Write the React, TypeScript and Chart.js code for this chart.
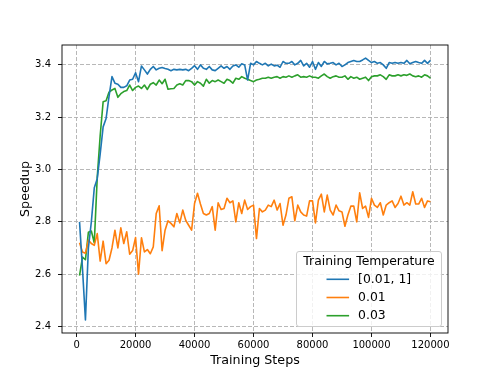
import React, { useEffect, useRef } from "react";
import { Chart, registerables } from "chart.js";

Chart.register(...registerables);

// ---------------- data ----------------
const steps = [
  1000, 2000, 3000, 4000, 5000, 6000, 7000, 8000, 9000, 10000,
  11000, 12000, 13000, 14000, 15000, 16000, 17000, 18000, 19000, 20000,
  21000, 22000, 23000, 24000, 25000, 26000, 27000, 28000, 29000, 30000,
  31000, 32000, 33000, 34000, 35000, 36000, 37000, 38000, 39000, 40000,
  41000, 42000, 43000, 44000, 45000, 46000, 47000, 48000, 49000, 50000,
  51000, 52000, 53000, 54000, 55000, 56000, 57000, 58000, 59000, 60000,
  61000, 62000, 63000, 64000, 65000, 66000, 67000, 68000, 69000, 70000,
  71000, 72000, 73000, 74000, 75000, 76000, 77000, 78000, 79000, 80000,
  81000, 82000, 83000, 84000, 85000, 86000, 87000, 88000, 89000, 90000,
  91000, 92000, 93000, 94000, 95000, 96000, 97000, 98000, 99000, 100000,
  101000, 102000, 103000, 104000, 105000, 106000, 107000, 108000, 109000, 110000,
  111000, 112000, 113000, 114000, 115000, 116000, 117000, 118000, 119000, 120000,
];

const seriesLabels = ["[0.01, 1]", "0.01", "0.03"];
const seriesColors = ["#1f77b4", "#ff7f0e", "#2ca02c"];
const legendTitle = "Training Temperature";
const xAxisLabel = "Training Steps";
const yAxisLabel = "Speedup";

const speedupRange = [
  2.8, 2.62, 2.425, 2.7, 2.8, 2.93, 2.965, 3.06, 3.163, 3.195,
  3.28, 3.355, 3.33, 3.326, 3.314, 3.314, 3.32, 3.342, 3.345, 3.37,
  3.336, 3.396, 3.381, 3.365, 3.383, 3.394, 3.381, 3.387, 3.39, 3.386,
  3.383, 3.378, 3.383, 3.381, 3.383, 3.381, 3.383, 3.378, 3.387, 3.397,
  3.383, 3.4, 3.387, 3.383, 3.394, 3.381, 3.378, 3.387, 3.396, 3.387,
  3.394, 3.383, 3.396, 3.4, 3.391, 3.404, 3.4, 3.342, 3.406, 3.4,
  3.413, 3.406, 3.4, 3.406, 3.396, 3.403, 3.396, 3.399, 3.391, 3.413,
  3.406, 3.406, 3.413, 3.4, 3.406, 3.417, 3.396, 3.406, 3.391, 3.413,
  3.383, 3.409, 3.394, 3.413, 3.404, 3.406, 3.409, 3.4, 3.406, 3.394,
  3.4, 3.409, 3.413, 3.417, 3.413, 3.413, 3.419, 3.426, 3.417, 3.409,
  3.413, 3.406, 3.409, 3.4, 3.387, 3.409, 3.406, 3.409, 3.406, 3.409,
  3.406, 3.417, 3.404, 3.409, 3.413, 3.409, 3.406, 3.417, 3.406, 3.417,
];

const speedup001 = [
  2.72, 2.685, 2.68, 2.73, 2.717, 2.71, 2.755, 2.65, 2.726, 2.64,
  2.653, 2.7, 2.768, 2.7, 2.777, 2.717, 2.762, 2.676, 2.69, 2.74,
  2.6, 2.739, 2.685, 2.694, 2.678, 2.704, 2.832, 2.861, 2.69, 2.768,
  2.804, 2.794, 2.781, 2.832, 2.796, 2.845, 2.806, 2.787, 2.768, 2.87,
  2.909, 2.868, 2.832, 2.826, 2.832, 2.858, 2.768, 2.873, 2.847, 2.851,
  2.89, 2.873, 2.88, 2.8, 2.873, 2.832, 2.883, 2.847, 2.858, 2.864,
  2.736, 2.851, 2.838, 2.845, 2.864, 2.858, 2.883, 2.845, 2.87, 2.787,
  2.826, 2.89, 2.896, 2.804, 2.864, 2.838, 2.826, 2.822, 2.88, 2.88,
  2.796, 2.883, 2.906, 2.838, 2.902, 2.845, 2.826, 2.864, 2.842, 2.838,
  2.783, 2.826, 2.86, 2.86, 2.8, 2.911, 2.851, 2.86, 2.817, 2.89,
  2.864, 2.855, 2.873, 2.826, 2.864, 2.873, 2.88, 2.855, 2.87, 2.898,
  2.864, 2.873, 2.864, 2.915, 2.868, 2.868, 2.89, 2.855, 2.88, 2.877,
];

const speedup003 = [
  2.594, 2.665, 2.655, 2.76, 2.765, 2.72, 2.97, 3.13, 3.259, 3.263,
  3.296, 3.304, 3.31, 3.276, 3.29, 3.298, 3.302, 3.323, 3.302, 3.314,
  3.319, 3.31, 3.323, 3.306, 3.326, 3.332, 3.323, 3.342, 3.328, 3.345,
  3.307, 3.309, 3.31, 3.323, 3.328, 3.323, 3.34, 3.34, 3.336, 3.323,
  3.336, 3.33, 3.319, 3.345, 3.33, 3.34, 3.336, 3.342, 3.336, 3.33,
  3.345, 3.34, 3.33, 3.349, 3.345, 3.355, 3.349, 3.345, 3.34, 3.336,
  3.342, 3.345, 3.349, 3.349, 3.353, 3.349, 3.353, 3.355, 3.349, 3.355,
  3.353, 3.358, 3.353, 3.358, 3.362, 3.353, 3.355, 3.353, 3.358, 3.353,
  3.353, 3.349, 3.358, 3.365, 3.355, 3.349, 3.355, 3.358, 3.353, 3.353,
  3.358, 3.345, 3.355, 3.349, 3.353, 3.345, 3.349, 3.353, 3.34, 3.355,
  3.358, 3.358, 3.362, 3.355, 3.345, 3.362, 3.358, 3.358, 3.362, 3.358,
  3.362, 3.36, 3.365, 3.358, 3.355, 3.358, 3.353, 3.362, 3.358, 3.349,
];

const xTicks = [0, 20000, 40000, 60000, 80000, 100000, 120000];
const yTicks = [2.4, 2.6, 2.8, 3.0, 3.2, 3.4];

// ---------------- helpers ----------------
const FONT = "'DejaVu Sans', 'Liberation Sans', sans-serif";

function paddedRange(values: number[], frac = 0.05) {
  const lo = Math.min(...values);
  const hi = Math.max(...values);
  const m = (hi - lo) * frac;
  return [lo - m, hi + m];
}

const framePlugin = {
  id: "mplFrame",
  afterDatasetsDraw(chart: any) {
    const { ctx, chartArea } = chart;
    const { left, right, top, bottom } = chartArea;
    ctx.save();
    ctx.strokeStyle = "#000";
    ctx.lineWidth = 0.9;
    ctx.setLineDash([]);
    ctx.strokeRect(left, top, right - left, bottom - top);
    ctx.restore();
  },
};

const legendPlugin = {
  id: "mplLegend",
  afterDraw(chart: any) {
    const { ctx, chartArea } = chart;
    const fs = 12.4;
    const w = 145;
    const h = 75;
    const pad = 6.5;
    const x = chartArea.right - pad - w;
    const y = chartArea.bottom - pad - h;
    ctx.save();
    ctx.beginPath();
    if (ctx.roundRect) ctx.roundRect(x, y, w, h, 2.5);
    else ctx.rect(x, y, w, h);
    ctx.fillStyle = "rgba(255,255,255,0.8)";
    ctx.fill();
    ctx.strokeStyle = "#cccccc";
    ctx.lineWidth = 1;
    ctx.setLineDash([]);
    ctx.stroke();

    ctx.font = `${fs}px ${FONT}`;
    ctx.fillStyle = "#000";
    ctx.textBaseline = "middle";
    ctx.textAlign = "center";
    ctx.fillText(legendTitle, x + w / 2, y + 9.8);

    chart.data.datasets.forEach((ds: any, i: number) => {
      const cy = y + 27.8 + i * 18.2;
      ctx.strokeStyle = ds.borderColor;
      ctx.lineWidth = 1.6;
      ctx.beginPath();
      ctx.moveTo(x + 30, cy);
      ctx.lineTo(x + 52.6, cy);
      ctx.stroke();
      ctx.textAlign = "left";
      ctx.fillStyle = "#000";
      ctx.fillText(ds.label, x + 61.6, cy);
    });
    ctx.restore();
  },
};

export default function App() {
  const canvasRef = useRef<HTMLCanvasElement | null>(null);

  useEffect(() => {
    const canvas = canvasRef.current;
    if (!canvas) return;
    Chart.defaults.font.family = FONT;
    Chart.defaults.color = "#000";

    const allSeries = [speedupRange, speedup001, speedup003];
    const [xMin, xMax] = paddedRange(steps);
    const [yMin, yMax] = paddedRange(allSeries.flat());

    const datasets = allSeries.map((vals, i) => ({
      label: seriesLabels[i],
      data: steps.map((s, j) => ({ x: s, y: vals[j] })),
      borderColor: seriesColors[i],
      backgroundColor: seriesColors[i],
      borderWidth: 1.6,
      pointRadius: 0,
      tension: 0,
      fill: false,
      borderJoinStyle: "round" as const,
      borderCapStyle: "butt" as const,
    }));

    const gridCommon = {
      color: "#b0b0b0",
      lineWidth: 0.9,
      drawTicks: true,
      tickLength: 4,
      tickColor: "#000",
      tickWidth: 0.9,
      tickBorderDash: [],
    };

    const chart = new Chart(canvas, {
      type: "line",
      data: { datasets },
      options: {
        responsive: false,
        animation: false,
        events: [],
        layout: { padding: { left: 0, right: 50, top: 45, bottom: 0 } },
        plugins: {
          legend: { display: false },
          tooltip: { enabled: false },
          title: { display: false },
        },
        scales: {
          x: {
            type: "linear",
            min: xMin,
            max: xMax,
            afterBuildTicks: (s: any) => {
              s.ticks = xTicks.map((v) => ({ value: v }));
            },
            afterFit: (s: any) => {
              s.height = 41;
            },
            grid: gridCommon,
            border: { display: false, dash: [4, 2] },
            ticks: {
              color: "#000",
              font: { size: 10, family: FONT },
              padding: 2,
              maxRotation: 0,
              autoSkip: false,
              callback: (v: any) => String(v),
            },
            title: {
              display: true,
              text: xAxisLabel,
              color: "#000",
              font: { size: 12.7, family: FONT },
              padding: { top: 0, bottom: 6 },
            },
          },
          y: {
            type: "linear",
            min: yMin,
            max: yMax,
            afterBuildTicks: (s: any) => {
              s.ticks = yTicks.map((v) => ({ value: v }));
            },
            afterFit: (s: any) => {
              s.width = 62;
            },
            grid: gridCommon,
            border: { display: false, dash: [4, 2] },
            ticks: {
              color: "#000",
              font: { size: 10, family: FONT },
              padding: 7,
              autoSkip: false,
              callback: (v: any) => Number(v).toFixed(1),
            },
            title: {
              display: true,
              text: yAxisLabel,
              color: "#000",
              font: { size: 12.7, family: FONT },
              padding: { top: 18, bottom: 0 },
            },
          },
        },
      },
      plugins: [framePlugin, legendPlugin],
    });

    return () => {
      chart.destroy();
    };
  }, []);

  return (
    <div style={{ position: "fixed", left: 0, top: 0, width: 498, height: 374, background: "#fff" }}>
      <canvas ref={canvasRef} width={498} height={374} style={{ display: "block" }} />
    </div>
  );
}
